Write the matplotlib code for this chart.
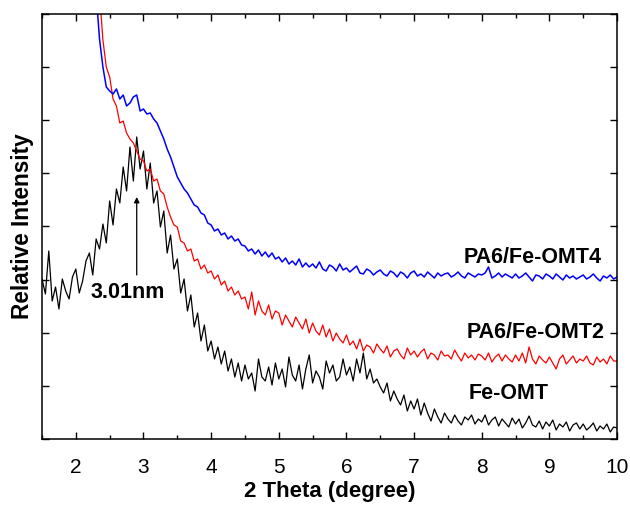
import numpy as np
import matplotlib
matplotlib.use("Agg")
import matplotlib.pyplot as plt

plt.rcParams['font.family'] = ['Liberation Sans', 'DejaVu Sans']

# 2 theta grids (degree), 0.05 step
theta_black = np.round(np.arange(1.50, 10.001, 0.05), 2)
theta_red = np.round(np.arange(2.35, 10.001, 0.05), 2)
theta_blue = np.round(np.arange(2.30, 10.001, 0.05), 2)

# intensities (arbitrary units)
fe_omt = [
    160, 145, 188, 138, 152, 130, 160, 148, 140, 162,
    170, 146, 158, 178, 186, 164, 200, 190, 215, 196,
    238, 214, 250, 236, 272, 248, 292, 258, 302, 270,
    288, 250, 276, 236, 248, 212, 228, 186, 204, 170,
    180, 146, 160, 128, 144, 112, 126, 98, 114, 88,
    98, 80, 92, 75, 88, 68, 80, 62, 76, 58,
    74, 60, 66, 48, 80, 62, 58, 72, 54, 76,
    60, 70, 52, 82, 64, 58, 74, 50, 70, 84,
    56, 68, 62, 50, 78, 66, 74, 58, 62, 80,
    64, 72, 58, 80, 66, 86, 60, 70, 56, 60,
    52, 46, 56, 38, 48, 40, 34, 44, 28, 38,
    30, 40, 24, 36, 26, 18, 30, 22, 16, 26,
    20, 16, 24, 18, 14, 22, 19, 24, 15, 20,
    17, 24, 14, 19, 22, 13, 20, 16, 12, 21,
    15, 20, 11, 16, 23, 14, 12, 18, 10, 17,
    13, 19, 9, 15, 12, 17, 8, 14, 16, 10,
    15, 9, 12, 16, 8, 13, 10, 15, 7, 12,
    11]

pa6_omt2 = [
    445, 399, 372,
    362, 340, 333, 316, 318, 306, 300, 296, 288, 280,
    278, 268, 270, 258, 260, 248, 245, 232, 222, 214,
    212, 198, 196, 188, 190, 178, 180, 170, 174, 166,
    168, 160, 164, 154, 158, 148, 152, 144, 148, 140,
    142, 130, 147, 124, 138, 128, 124, 134, 120, 128,
    126, 114, 124, 118, 112, 122, 116, 110, 120, 106,
    116, 108, 104, 114, 102, 110, 98, 106, 100, 96,
    104, 94, 98, 90, 100, 88, 94, 92, 86, 95,
    90, 86, 93, 82, 88, 90, 84, 80, 91, 84,
    88, 82, 87, 90, 80, 86, 84, 79, 88, 83,
    84, 80, 89, 83, 78, 86, 81, 84, 79, 85,
    83, 79, 86, 77, 82, 85, 78, 84, 80, 77,
    84, 78, 86, 76, 92, 80, 75, 83, 79, 76,
    82, 76, 70, 80, 84, 75, 79, 83, 76, 80,
    78, 83, 76, 74, 82, 77, 80, 75, 83, 78,
    78]

pa6_omt4 = [
    445, 400, 372, 352,
    348, 345, 350, 340, 344, 333, 336, 342, 344, 328,
    330, 325, 326, 320, 316, 308, 300, 290, 282, 272,
    262, 256, 250, 246, 240, 234, 232, 226, 224, 216,
    214, 208, 210, 204, 206, 200, 203, 198, 200, 194,
    193, 188, 190, 185, 189, 183, 187, 182, 186, 180,
    182, 177, 181, 175, 178, 174, 180, 172, 176, 172,
    175, 171, 177, 170, 168, 174, 172, 168, 175, 169,
    171, 167, 170, 173, 166, 165, 170, 168, 164, 167,
    169, 165, 163, 168, 166, 162, 167, 165, 161, 166,
    168, 163, 165, 162, 167, 164, 161, 166, 163, 165,
    166, 162, 164, 167, 163, 161, 166, 164, 162, 165,
    164, 166, 172, 161, 163, 166, 162, 165, 163, 161,
    165, 161, 163, 166, 162, 158, 164, 163, 160, 165,
    163, 160, 165, 162, 159, 164, 161, 163, 160, 162,
    164, 160, 162, 165, 161, 158, 163, 161, 164, 160,
    162]

peak_theta = 2.9
peak_label = "3.01nm"

fig = plt.figure(figsize=(6.3, 5.05), dpi=100)
ax = fig.add_axes([0.0667, 0.1307, 0.9127, 0.8416])

ax.plot(theta_black, fe_omt, color='black', lw=0.9)
ax.plot(theta_red, pa6_omt2, color='red', lw=0.9)
ax.plot(theta_blue, pa6_omt4, color='blue', lw=1.1)

ax.set_xlim(1.5, 10)
ax.set_ylim(0, 425)
ax.set_xticks(np.arange(2, 11, 1))
ax.set_xticks(np.arange(1.5, 10.01, 0.5), minor=True)
ax.set_yticks(np.arange(0, 426, 53.125))
ax.set_yticklabels([])
ax.tick_params(which='both', direction='in', top=True, right=True, width=1)
ax.tick_params(which='major', length=5, labelsize=15)
ax.tick_params(axis='x', which='major', pad=14)
ax.tick_params(axis='y', which='major', pad=3)
ax.tick_params(which='minor', length=3)
for s in ax.spines.values():
    s.set_linewidth(1.1)

ax.set_xlabel("2 Theta (degree)", fontsize=16, fontweight='bold', labelpad=2.5)
ax.set_ylabel("Relative Intensity", fontsize=16.3, fontweight='bold', labelpad=3)

ax.text(8.75, 181, "PA6/Fe-OMT4", fontsize=15.5, fontweight='bold', ha='center', va='center')
ax.text(8.79, 106, "PA6/Fe-OMT2", fontsize=15.5, fontweight='bold', ha='center', va='center')
ax.text(8.40, 45, "Fe-OMT", fontsize=15.5, fontweight='bold', ha='center', va='center')
ax.text(2.76, 146, peak_label, fontsize=15.5, fontweight='bold', ha='center', va='center')
ax.annotate("", xy=(peak_theta, 242), xytext=(peak_theta, 164),
            arrowprops=dict(arrowstyle='-|>', color='black', lw=0.9,
                            mutation_scale=8, shrinkA=0, shrinkB=0))

fig.savefig("out.png", dpi=100)
